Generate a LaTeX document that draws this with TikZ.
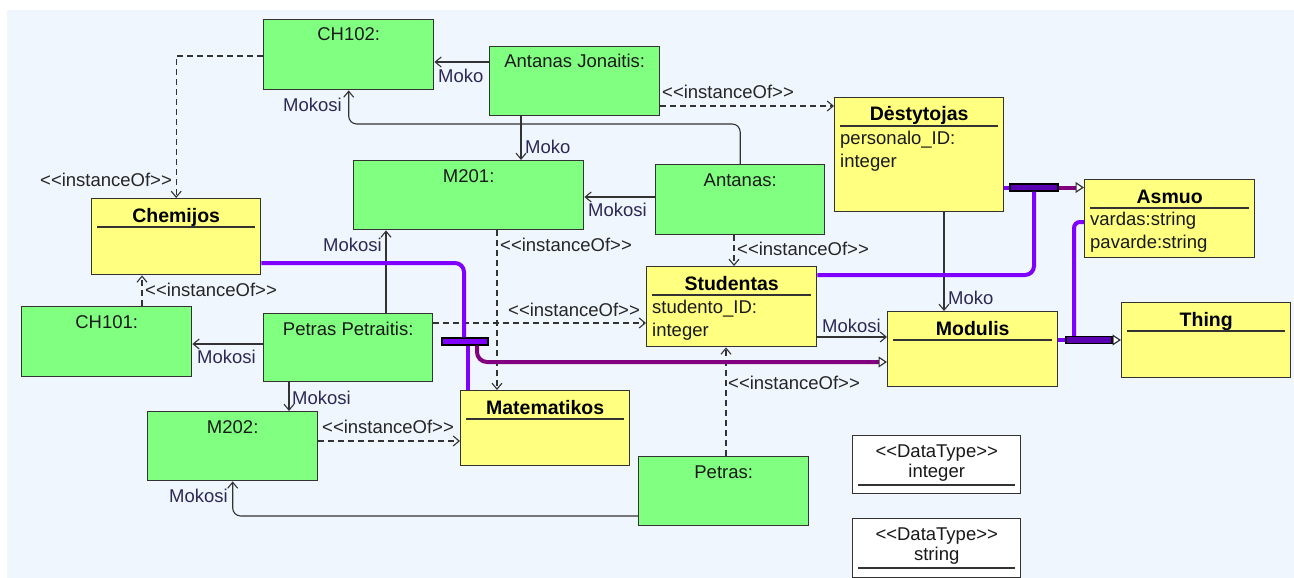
\documentclass[tikz,border=0pt]{standalone}
\usepackage{fontspec}
\setmainfont{Liberation Sans}
\usetikzlibrary{arrows.meta}

\definecolor{bgblue}{RGB}{239,246,253}
\definecolor{instgreen}{RGB}{128,255,128}
\definecolor{clsyellow}{RGB}{255,255,128}
\definecolor{genviolet}{RGB}{128,0,255}
\definecolor{genpurple}{RGB}{128,0,128}
\definecolor{linegray}{RGB}{51,51,51}
\definecolor{assoctext}{RGB}{45,40,85}

\newcommand\regfont{\fontsize{18.5}{22}\selectfont}
\newcommand\titlefont{\fontsize{19.5}{22}\selectfont\bfseries}
\newcommand\instof{<{}<instanceOf>{}>}
\newcommand\dtstereo{<{}<DataType>{}>}

\tikzset{
  boxbase/.style={draw=linegray, line width=1.4pt, inner sep=0pt, anchor=north west},
  instbox/.style={boxbase, fill=instgreen},
  clsbox/.style={boxbase, fill=clsyellow},
  dtbox/.style={boxbase, fill=white},
  boxtext/.style={font=\regfont, inner sep=0pt, anchor=base, text=black!90},
  clstitle/.style={font=\titlefont, inner sep=0pt, anchor=base, text=black},
  attrtext/.style={font=\regfont, inner sep=0pt, anchor=base west, text=black!90},
  divider/.style={draw=linegray, line width=1.2pt},
  assoc/.style={draw=linegray, line width=1.1pt,
    -{Straight Barb[length=6pt,width=10pt,line width=1.1pt]}},
  dep/.style={assoc, dash pattern=on 6pt off 4pt},
  assoclabel/.style={font=\regfont, inner sep=0pt, anchor=base west, text=assoctext},
  deplabel/.style={font=\regfont, inner sep=0pt, anchor=base west, text=black!85},
  genline/.style={draw=genviolet, line width=4pt, rounded corners=9pt},
  genlinedark/.style={draw=genpurple, line width=4pt, rounded corners=9pt},
  genhead/.style={-{Triangle[length=8.5pt,width=11pt,line width=1.2pt,color=linegray,fill=white]}},
  genbar/.style={draw=black, line width=1.2pt, minimum height=7pt, inner sep=0pt},
}

% object (instance) box with its name near the top
\newcommand\instnode[6]{%
  \node[instbox, minimum width=#4pt, minimum height=#5pt] (#1) at (#2,#3) {};
  \node[boxtext] (#1-name) at ([yshift=-22pt]#1.north) {#6};}

% class box: bold name and a divider under it
\newcommand\classnode[6]{%
  \node[clsbox, minimum width=#4pt, minimum height=#5pt] (#1) at (#2,#3) {};
  \node[clstitle] (#1-name) at ([yshift=-24pt]#1.north) {#6};
  \draw[divider] ([xshift=6pt,yshift=-29pt]#1.north west) -- ([xshift=-6pt,yshift=-29pt]#1.north east);}

\begin{document}
\begin{tikzpicture}[x=1pt,y=-1pt]
\useasboundingbox (0,0) rectangle (1294,578);
\fill[bgblue] (7,10) rectangle (1294,578);

% objects
\instnode{ch102}{263}{19}{170}{70}{CH102:}
\instnode{aj}{489}{46}{170}{69}{Antanas Jonaitis:}
\instnode{m201}{353}{160}{230}{69}{M201:}
\instnode{antanas}{655}{164}{169}{70}{Antanas:}
\instnode{ch101}{21}{306}{170}{70}{CH101:}
\instnode{pp}{263}{313}{169}{68}{Petras Petraitis:}
\instnode{m202}{147}{411}{170}{69}{M202:}
\instnode{petras}{638}{456}{170}{69}{Petras:}

% classes
\classnode{dest}{834}{97}{169}{114}{Dėstytojas}
\classnode{asmuo}{1084}{179}{170}{78}{Asmuo}
\classnode{chem}{91}{198}{169}{76}{Chemijos}
\classnode{stud}{646}{266}{170}{80}{Studentas}
\classnode{modulis}{887}{311}{170}{75}{Modulis}
\classnode{thing}{1121}{302}{169}{75}{Thing}
\classnode{mat}{460}{390}{169}{75}{Matematikos}

% attributes
\node[attrtext] (dest-a1) at ([xshift=6pt,yshift=-47pt]dest.north west) {personalo\_ID:};
\node[attrtext] (dest-a2) at ([xshift=6pt,yshift=-70pt]dest.north west) {integer};
\node[attrtext] (stud-a1) at ([xshift=6pt,yshift=-47pt]stud.north west) {studento\_ID:};
\node[attrtext] (stud-a2) at ([xshift=6pt,yshift=-70pt]stud.north west) {integer};
\node[attrtext] (asmuo-a1) at ([xshift=6pt,yshift=-46pt]asmuo.north west) {vardas:string};
\node[attrtext] (asmuo-a2) at ([xshift=6pt,yshift=-69pt]asmuo.north west) {pavarde:string};

% data types
\node[dtbox, minimum width=168pt, minimum height=58pt] (dtint) at (852,435) {};
\node[boxtext] (dtint-st) at ([yshift=-22pt]dtint.north) {\dtstereo};
\node[boxtext] (dtint-name) at ([yshift=-42pt]dtint.north) {integer};
\draw[divider] ([xshift=6pt,yshift=-50pt]dtint.north west) -- ([xshift=-6pt,yshift=-50pt]dtint.north east);
\node[dtbox, minimum width=168pt, minimum height=59pt] (dtstr) at (852,518) {};
\node[boxtext] (dtstr-st) at ([yshift=-22pt]dtstr.north) {\dtstereo};
\node[boxtext] (dtstr-name) at ([yshift=-42pt]dtstr.north) {string};
\draw[divider] ([xshift=6pt,yshift=-50pt]dtstr.north west) -- ([xshift=-6pt,yshift=-50pt]dtstr.north east);

% instanceOf dependencies
\draw[dep] (ch102.west |- 0,56) -| (chem.north);
\draw[dep] (aj.east |- 0,106) -- (dest.west |- 0,106);
\draw[dep] (antanas.south -| 734,0) -- (stud.north -| 734,0);
\draw[dep] (m201.south -| 497,0) -- (mat.north -| 497,0);
\draw[dep] (pp.east |- 0,323) -- (stud.west |- 0,323);
\draw[dep] (ch101.north -| 142,0) -- (chem.south -| 142,0);
\draw[dep] (m202.east |- 0,441) -- (mat.west |- 0,441);
\draw[dep] (petras.north -| 726,0) -- (stud.south -| 726,0);

% links
\draw[assoc] (aj.west |- 0,62) -- (ch102.east |- 0,62);
\draw[assoc] (aj.south -| 521,0) -- (m201.north -| 521,0);
\draw[assoc, rounded corners=8pt] (antanas.north) -- (antanas.north |- 0,124) -- (ch102.south |- 0,124) -- (ch102.south);
\draw[assoc] (antanas.west |- 0,197) -- (m201.east |- 0,197);
\draw[assoc] (pp.north -| 386,0) -- (m201.south -| 386,0);
\draw[assoc] (pp.west |- 0,344) -- (ch101.east |- 0,344);
\draw[assoc] (pp.south -| 289,0) -- (m202.north -| 289,0);
\draw[assoc, rounded corners=8pt] (petras.west |- 0,516) -- (m202.south |- 0,516) -- (m202.south);
\draw[assoc] (stud.east |- 0,337) -- (modulis.west |- 0,337);
\draw[assoc] (dest.south -| 944,0) -- (modulis.north -| 944,0);

% labels
\node[deplabel] (l1) at (40,186) {\instof};
\node[deplabel] (l2) at (662,99) {\instof};
\node[deplabel] (l3) at (737,255) {\instof};
\node[deplabel] (l4) at (500,251) {\instof};
\node[deplabel] (l5) at (508,316) {\instof};
\node[deplabel] (l6) at (145,296) {\instof};
\node[deplabel] (l7) at (322,433) {\instof};
\node[deplabel] (l8) at (728,389) {\instof};
\node[assoclabel] (m1) at (438,82) {Moko};
\node[assoclabel] (m2) at (525,153) {Moko};
\node[assoclabel] (m3) at (283,111) {Mokosi};
\node[assoclabel] (m4) at (588,216) {Mokosi};
\node[assoclabel] (m5) at (323,251) {Mokosi};
\node[assoclabel] (m6) at (197,363) {Mokosi};
\node[assoclabel] (m7) at (292,404) {Mokosi};
\node[assoclabel] (m8) at (169,502) {Mokosi};
\node[assoclabel] (m9) at (822,332) {Mokosi};
\node[assoclabel] (m10) at (948,304) {Moko};

% generalization join bars
\node[genbar, fill=genviolet!70!black, minimum width=48pt] (bar1) at (1034,187.5) {};
\node[genbar, fill=genviolet!70!black, minimum width=46pt] (bar2) at (1089,340) {};
\node[genbar, fill=genviolet, minimum width=46pt] (bar3) at (465,341.5) {};

% generalizations
\draw[genline] (dest.east |- bar1) -- (bar1.west);
\draw[genlinedark, genhead] (bar1.east) -- (asmuo.west |- bar1);
\draw[genline] (stud.east |- 0,275) -- (bar1.south |- 0,275) -- (bar1.south);
\draw[genline] (modulis.east |- bar2) -- (bar2.west);
\draw[genlinedark, line width=1pt, genhead] (bar2.east) -- (thing.west |- bar2);
\draw[genline, rounded corners=6pt] (asmuo.west |- 0,222) -- (1074,222) -- (bar2.north -| 1074,0);
\draw[genline] (chem.east |- 0,263) -- (464,263) -- (bar3.north -| 464,0);
\draw[genline] (mat.north -| 468,0) -- (bar3.south -| 468,0);
\draw[genlinedark, rounded corners=10pt, genhead] (bar3.south -| 477,0) -- (477,362) -- (modulis.west |- 0,362);
\end{tikzpicture}
\end{document}
